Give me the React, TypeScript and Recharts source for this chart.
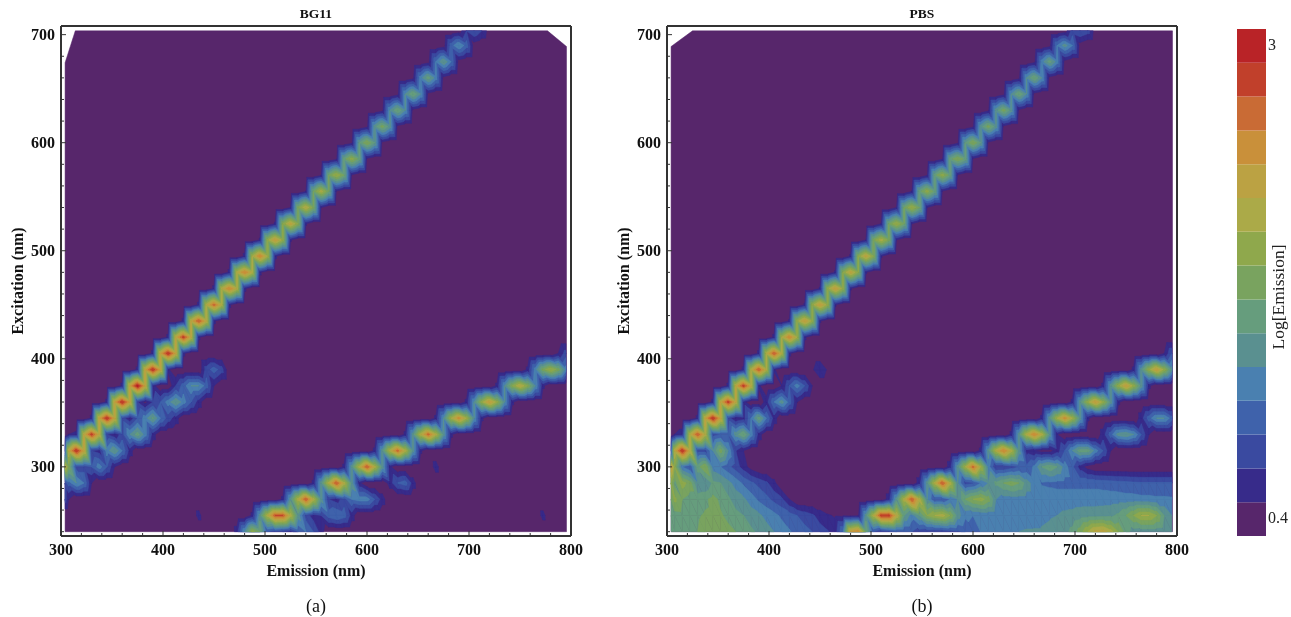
import { Bar, BarChart, Scatter, ScatterChart, XAxis, YAxis } from 'recharts';

// band colours, lowest (background) to highest
const levelColors = [
  '#57266B', '#372B8A', '#3A4AA0', '#3F62AB', '#4A80B0', '#5A9090', '#669D7D', '#79A35F',
  '#8FA84C', '#ABAA48', '#BBA243', '#C9903A', '#C96B35', '#C1402B', '#B92327',
];

const colorbarTicks = [0.55, 14.55];
const colorbarLabels = ['0.4', '3'];

const excitationRows = [
  240, 255, 270, 285, 300, 315, 330, 345, 360, 375, 390, 405, 420, 435, 450, 465, 480, 495, 510, 525, 540, 555, 570,
  585, 600, 615, 630, 645, 660, 675, 690, 705,
];
const EM_START = 300;
const EM_STEP = 7.5;
const EM_COUNT = 67;

const emissionTicks = [
  300, 320, 340, 360, 380, 400, 420, 440, 460, 480, 500, 520, 540, 560, 580, 600, 620, 640, 660, 680, 700, 720, 740,
  760, 780, 800,
];
const excitationTicks = [
  240, 260, 280, 300, 320, 340, 360, 380, 400, 420, 440, 460, 480, 500, 520, 540, 560, 580, 600, 620, 640, 660, 680,
  700,
];

// every span is [excitation, first emission, ...levels every 7.5 nm]
const bg11FirstOrder = [
  [270, 300, 2.5, 1],
  [285, 300, 2.5, 3.5, 5, 4, 1],
  [300, 300, 10, 7.5, 2.5, 2.5, 3, 4.5, 3, 1],
  [315, 300, 3, 10, 14, 10.5, 2, 1.5, 4.5, 6, 4, 1.5],
  [330, 307.5, 1, 1.2, 10, 13.5, 10, 2, 1.2, 2.5, 5, 6.5, 4.5, 1.5],
  [345, 330, 1.2, 10.5, 14, 10.5, 2.5, 1.2, 3, 4.5, 6.2, 4, 2.5, 1.5],
  [360, 345, 1.2, 10.5, 14, 10.5, 2, 0.6, 2, 3, 4.5, 6, 4.5, 3, 1.5],
  [375, 360, 1.2, 10.5, 14.5, 10.5, 1.5],
  [375, 412.5, 2, 3.5, 5, 5, 3.5, 1],
  [390, 375, 1.2, 10.5, 14, 10.5, 1.2],
  [390, 442.5, 2.5, 3.5, 2.5],
  [405, 390, 1.2, 10.5, 14, 10.5, 1.2],
  [420, 405, 1.2, 10, 13.5, 10, 1.2],
  [435, 420, 1.2, 10, 13, 10, 1.2],
  [450, 435, 1.2, 9.5, 12.5, 9.5, 1.2],
  [465, 450, 1.2, 9.5, 12, 9.5, 1.2],
  [480, 465, 1.2, 9.5, 12, 9.5, 1.2],
  [495, 480, 1.2, 9, 12, 9, 1.2],
  [510, 495, 1.1, 8.5, 11, 8.5, 1.1],
  [525, 510, 1.1, 8, 10.5, 8, 1.1],
  [540, 525, 1, 7.5, 10, 7.5, 1],
  [555, 540, 0.9, 7, 9.5, 7, 0.9],
  [570, 555, 0.8, 7, 9, 7, 0.8],
  [585, 570, 0.7, 6.5, 8.5, 6.5, 0.7],
  [600, 585, 0.6, 6, 8, 6, 0.6],
  [615, 600, 0.6, 5.5, 7.5, 5.5, 0.6],
  [630, 615, 0.6, 5, 7, 5, 0.6],
  [645, 630, 0.6, 5, 7, 5, 0.6],
  [660, 645, 0.6, 4.5, 6.5, 4.5, 0.6],
  [675, 660, 0.5, 4, 6, 4, 0.5],
  [690, 675, 0.4, 3.5, 5, 3.5, 0.4],
  [705, 690, 0.4, 2, 3, 2, 0.4],
];

const bg11SecondOrder = [
  [240, 472.5, 1.5, 5, 8.5, 7, 3, 2.5, 2, 1.5, 3, 4, 3, 1.5],
  [255, 487.5, 1.2, 5.5, 9.5, 13, 13, 9.5, 5.5, 2.5, 1.5, 2, 3.5, 4, 3.5, 1.5],
  [270, 517.5, 1.2, 5.5, 9.5, 13, 9.5, 5.5, 2, 1.5, 2.5, 4, 4.5, 4.5, 3, 1.5],
  [285, 547.5, 1.2, 5.5, 9.5, 13, 9.5, 5.5, 1.2],
  [285, 622.5, 1.5, 3, 3.5, 1.5],
  [300, 577.5, 1.2, 5.5, 9.5, 13, 9.5, 5.5, 1.2],
  [315, 607.5, 1.2, 5.5, 9.5, 12.5, 9.5, 5.5, 1.2],
  [330, 637.5, 1.2, 5.5, 9.5, 12.5, 9.5, 5.5, 1.2],
  [345, 667.5, 1.2, 5, 9, 11.5, 9, 5, 1.2],
  [360, 697.5, 1.2, 5, 8.5, 11, 8.5, 5, 1.2],
  [375, 727.5, 1.2, 5, 8, 10, 8, 5, 1.2],
  [390, 757.5, 1.2, 4.5, 7.5, 9, 7.5, 4.5, 1.2],
  [405, 787.5, 1, 2.5],
];

const bg11Specks = [
  [255, 435, 1.4],
  [255, 772.5, 1.4],
  [300, 667.5, 1.5],
];

const pbsBroad = [
  [240, 300, 6.5, 6.6, 6.7, 6.8, 7, 7.3, 7.4, 7.4, 7.2, 7, 6.5, 6.2, 5.8, 5.4, 5, 4.5, 4.1, 3.7, 3.3, 3, 2.5, 2.1, 1.5],
  [
    240, 472.5, 4, 11, 12, 7, 3, 2, 2.5, 3, 3, 3, 2.5, 2.3, 2.2, 2.2, 2.5, 2.8, 3.2, 3.7, 4, 4.2, 4.2, 4.3, 4.6, 5, 5.1,
    5.1, 5.1, 5.2, 5.4, 5.7, 6.3, 7.5, 9, 10.3, 10.5, 9.5, 8, 6.5, 5.5, 5.4, 5.4, 5.4, 5.3, 5.1,
  ],
  [255, 300, 6.5, 6.5, 6.6, 6.8, 6.9, 7.1, 7.2, 7.1, 6.8, 6.3, 6, 5.5, 5.2, 4.7, 4.3, 3.8, 3.4, 3, 2.6, 2.2, 1.5, 1.1, 0.9],
  [
    255, 472.5, 0.8, 0.7, 0.8, 5.5, 9.5, 13.5, 13.5, 10, 6, 4.5, 6, 8, 9, 9.5, 8, 5.5, 4.2, 4, 4.1, 4.2, 4.2, 4.3, 4.3,
    4.4, 4.5, 4.6, 4.8, 4.9, 5, 5.2, 5.3, 5.5, 5.6, 5.6, 5.7, 5.8, 6.2, 7, 8, 9, 9, 8, 6, 5,
  ],
  [270, 300, 7, 8.3, 7, 6.5, 6.5, 6.8, 7.3, 6.8, 6.2, 5.5, 5.2, 4.5, 3.8, 3.3, 2.7, 2.2, 1],
  [
    270, 517.5, 1.5, 5.5, 9.5, 13, 9.5, 5, 3, 3, 4, 5, 7, 8, 8.5, 7.5, 5, 4.5, 4.5, 4.5, 4.5, 4.5, 4.5, 4.5, 4.5, 4.5,
    4.5, 4.5, 4.5, 4.5, 4.5, 4.5, 4.5, 4.4, 4.4, 4.3, 4.3, 4.2, 4.2, 4.15,
  ],
  [285, 300, 8, 6.5, 8.5, 7.5, 5, 5, 6.2, 6, 5.3, 4.6, 3.8, 3.2, 2.7, 2.2, 1.3],
  [
    285, 547.5, 1.5, 5.5, 9.5, 13, 9.5, 5, 2.5, 2.8, 4, 5, 6.2, 7, 7.5, 7, 5.5, 4.5, 3.9, 3.8, 3.7, 3.7, 3.7, 3.7, 3.7,
    3.7, 3.6, 3.5, 3.4, 3.3, 3.2, 3.1, 3.1, 3.1, 3.1, 3.1,
  ],
  [300, 300, 11, 8, 4, 3, 6.5, 8, 4.5, 4, 3.3, 2.5, 1.5, 0.5],
  [300, 577.5, 1.5, 5.5, 9, 12.5, 9, 4.5, 2, 2, 2.5, 3, 3.2, 4.2, 6, 6.7, 6, 4.5, 3.2, 1.5, 0.5],
];

const pbsFirstOrder = [
  [315, 300, 3, 10, 14, 10, 2.5, 2.5, 5, 7.5, 5, 2, 1],
  [330, 307.5, 1, 1.5, 9.5, 13, 9.5, 2.5, 3, 3, 5.5, 7, 4.5, 1.5],
  [345, 330, 1.2, 10.5, 14, 10.5, 2.5, 1, 1.5, 4, 6.5, 4, 1.5],
  [360, 345, 1.2, 10, 13.5, 10, 1.5],
  [360, 397.5, 1.5, 4, 5.5, 3.5, 1],
  [375, 360, 1.2, 10, 13.5, 10, 1.2],
  [375, 412.5, 1, 3, 4.5, 3, 1],
  [390, 375, 1.2, 9.5, 13, 9.5, 1.2],
  [390, 442.5, 0.8, 2, 0.8],
  [405, 390, 1.2, 9.5, 13, 9.5, 1.2],
  [420, 405, 1.2, 9, 12, 9, 1.2],
  [435, 420, 1.1, 8.5, 11, 8.5, 1.1],
  [450, 435, 1.1, 8.5, 11, 8.5, 1.1],
  [465, 450, 1.1, 8.5, 11, 8.5, 1.1],
  [480, 465, 1.1, 8, 10.5, 8, 1.1],
  [495, 480, 1.1, 8, 10.5, 8, 1.1],
  [510, 495, 1, 7.5, 9.5, 7.5, 1],
  [525, 510, 1, 7, 9, 7, 1],
  [540, 525, 1, 7, 9, 7, 1],
  [555, 540, 0.9, 6.5, 8.5, 6.5, 0.9],
  [570, 555, 0.8, 6.5, 8.5, 6.5, 0.8],
  [585, 570, 0.8, 6.5, 8, 6.5, 0.8],
  [600, 585, 0.7, 6, 8, 6, 0.7],
  [615, 600, 0.7, 5.5, 7.5, 5.5, 0.7],
  [630, 615, 0.7, 5.5, 7.5, 5.5, 0.7],
  [645, 630, 0.6, 5, 7, 5, 0.6],
  [660, 645, 0.6, 5, 7, 5, 0.6],
  [675, 660, 0.6, 4.5, 6.5, 4.5, 0.6],
  [690, 675, 0.5, 4, 5.5, 4, 0.5],
  [705, 690, 0.4, 2.5, 3, 2.5, 0.4],
];

const pbsSecondOrder = [
  [315, 607.5, 1.2, 5.5, 9.5, 12, 9.5, 5.5, 1.5, 1, 0.5, 0.5, 1.5, 3, 5, 6.5, 6.5, 4.5, 3, 1],
  [330, 637.5, 1.2, 5.5, 9.5, 12, 9.5, 5.5, 1],
  [330, 727.5, 1.5, 3.5, 5.5, 5.8, 5, 3, 1],
  [345, 667.5, 1.2, 5.5, 9, 11.5, 9, 5.5, 1.2],
  [345, 765, 1.5, 3.5, 5, 5, 3.5],
  [360, 697.5, 1.2, 5.5, 8.5, 11, 8.5, 5.5, 1.2],
  [375, 727.5, 1.2, 5.5, 8.5, 11, 8.5, 5.5, 1.2],
  [390, 757.5, 1.2, 5.5, 8.5, 11, 8.5, 5.5],
  [405, 787.5, 1, 3],
];

// edges of the measured area, emission / excitation
const bg11OutlineEm = [304, 795.6, 795.6, 777, 314, 304];
const bg11OutlineEx = [240, 240, 689, 703.5, 703.5, 674];
const pbsOutlineEm = [304, 795.6, 795.6, 325, 304];
const pbsOutlineEx = [240, 240, 703.5, 703.5, 689];

const CHART_W = 640;
const CHART_H = 617;
const PLOT = { left: 61, right: 571, top: 26, bottom: 536 };
const X_DOMAIN = [300, 800];
const Y_DOMAIN = [236, 708];
const PX_X = (PLOT.right - PLOT.left) / (X_DOMAIN[1] - X_DOMAIN[0]);
const PX_Y = (PLOT.bottom - PLOT.top) / (Y_DOMAIN[1] - Y_DOMAIN[0]);
const FONT = '"Liberation Serif", serif';
const FRAME = '#333';

type Vtx = [number, number, number];
type Piece = { em: number; ex: number; level: number; poly: number[][] };

function clipTriangle(tri: Vtx[], level: number) {
  const out: number[][] = [];
  for (let i = 0; i < 3; i++) {
    const a = tri[i];
    const b = tri[(i + 1) % 3];
    if (a[2] >= level) out.push([a[0], a[1]]);
    if (a[2] >= level !== b[2] >= level) {
      const t = (level - a[2]) / (b[2] - a[2]);
      out.push([a[0] + (b[0] - a[0]) * t, a[1] + (b[1] - a[1]) * t]);
    }
  }
  return out;
}

// turns the read-off grid into filled contour pieces in data units
function buildPieces(spans: number[][]) {
  const grid = excitationRows.map(() => new Array(EM_COUNT).fill(0));
  spans.forEach(([ex, em, ...vals]) => {
    const r = excitationRows.indexOf(ex);
    const c0 = Math.round((em - EM_START) / EM_STEP);
    vals.forEach((v, i) => {
      if (c0 + i < EM_COUNT) grid[r][c0 + i] = Math.max(grid[r][c0 + i], v);
    });
  });
  const emAt = (c: number) => Math.min(795.6, Math.max(304, EM_START + c * EM_STEP));
  const exAt = (r: number) => Math.min(703.5, excitationRows[r]);
  const pieces: Piece[] = [];
  for (let level = 1; level < levelColors.length; level++) {
    for (let r = 0; r < excitationRows.length - 1; r++) {
      for (let c = 0; c < EM_COUNT - 1; c++) {
        const bl: Vtx = [emAt(c), exAt(r), grid[r][c]];
        const br: Vtx = [emAt(c + 1), exAt(r), grid[r][c + 1]];
        const tl: Vtx = [emAt(c), exAt(r + 1), grid[r + 1][c]];
        const tr: Vtx = [emAt(c + 1), exAt(r + 1), grid[r + 1][c + 1]];
        // split every cell the same way, across the ridge: this is what gives the saw-tooth edges
        const tris = [[bl, br, tl], [br, tr, tl]];
        tris.forEach((tri) => {
          const vals = tri.map((p) => p[2]);
          if (Math.max(...vals) < level || Math.min(...vals) >= level + 1) return;
          const poly = clipTriangle(tri as Vtx[], level);
          if (poly.length > 2) pieces.push({ em: poly[0][0], ex: poly[0][1], level, poly });
        });
      }
    }
  }
  return pieces;
}

function outlinePiece(ems: number[], exs: number[]): Piece[] {
  return [{ em: ems[0], ex: exs[0], level: 0, poly: ems.map((e, i) => [e, exs[i]]) }];
}

const PieceShape = (props: any) => {
  const { cx, cy, payload } = props;
  const pts = payload.poly
    .map((p: number[]) => `${cx + (p[0] - payload.em) * PX_X},${cy - (p[1] - payload.ex) * PX_Y}`)
    .join(' ');
  const color = levelColors[payload.level];
  return <polygon points={pts} fill={color} stroke={color} strokeWidth={0.5} />;
};

const BottomTick = (props: any) => {
  const { x, y, payload } = props;
  const major = payload.value % 100 === 0;
  return (
    <g>
      <line x1={x} x2={x} y1={y} y2={y - (major ? 5 : 3)} stroke={FRAME} />
      {major && (
        <text x={x} y={y + 19} textAnchor="middle" fontFamily={FONT} fontWeight="bold" fontSize={16} fill="#111">
          {payload.value}
        </text>
      )}
    </g>
  );
};

const TopTick = (props: any) => {
  const { x, y, payload } = props;
  return <line x1={x} x2={x} y1={y} y2={y + (payload.value % 100 === 0 ? 5 : 3)} stroke={FRAME} />;
};

const LeftTick = (props: any) => {
  const { x, y, payload } = props;
  const major = payload.value % 100 === 0;
  return (
    <g>
      <line x1={x} x2={x + (major ? 5 : 3)} y1={y} y2={y} stroke={FRAME} />
      {major && (
        <text x={x - 6} y={y + 5} textAnchor="end" fontFamily={FONT} fontWeight="bold" fontSize={16} fill="#111">
          {payload.value}
        </text>
      )}
    </g>
  );
};

const RightTick = (props: any) => {
  const { x, y, payload } = props;
  return <line x1={x} x2={x - (payload.value % 100 === 0 ? 5 : 3)} y1={y} y2={y} stroke={FRAME} />;
};

function Panel({ left, title, tag, outline, pieces }: any) {
  const axisLine = { stroke: FRAME, strokeWidth: 2 };
  const labelStyle = { fontFamily: FONT, fontWeight: 'bold', fontSize: 16, fill: '#111' };
  return (
    <div style={{ position: 'absolute', left, top: 0 }}>
      <ScatterChart
        width={CHART_W}
        height={CHART_H}
        margin={{ top: PLOT.top - 1, right: CHART_W - PLOT.right - 1, bottom: CHART_H - PLOT.bottom - 40, left: 0 }}
      >
        <XAxis
          type="number"
          dataKey="em"
          domain={X_DOMAIN}
          ticks={emissionTicks}
          interval={0}
          height={40}
          tickSize={0}
          tickMargin={0}
          tickLine={false}
          axisLine={axisLine}
          tick={BottomTick}
          label={{ value: 'Emission (nm)', position: 'insideBottom', offset: 0, style: labelStyle }}
        />
        <XAxis
          xAxisId="top"
          orientation="top"
          type="number"
          domain={X_DOMAIN}
          ticks={emissionTicks}
          interval={0}
          height={1}
          tickSize={0}
          tickMargin={0}
          tickLine={false}
          axisLine={axisLine}
          tick={TopTick}
        />
        <YAxis
          type="number"
          dataKey="ex"
          domain={Y_DOMAIN}
          ticks={excitationTicks}
          interval={0}
          width={PLOT.left}
          tickSize={0}
          tickMargin={0}
          tickLine={false}
          axisLine={axisLine}
          tick={LeftTick}
          label={{ value: 'Excitation (nm)', angle: -90, position: 'insideLeft', offset: 17, style: { ...labelStyle, textAnchor: 'middle' } }}
        />
        <YAxis
          yAxisId="right"
          orientation="right"
          type="number"
          domain={Y_DOMAIN}
          ticks={excitationTicks}
          interval={0}
          width={1}
          tickSize={0}
          tickMargin={0}
          tickLine={false}
          axisLine={axisLine}
          tick={RightTick}
        />
        <Scatter data={outline} shape={PieceShape} isAnimationActive={false} />
        <Scatter data={pieces} shape={PieceShape} isAnimationActive={false} />
        <text x={316} y={18} textAnchor="middle" fontFamily={FONT} fontWeight="bold" fontSize={13.5} fill="#111">
          {title}
        </text>
        <text x={316} y={612} textAnchor="middle" fontFamily={FONT} fontSize={18} fill="#111">
          {tag}
        </text>
      </ScatterChart>
    </div>
  );
}

const colorbarRow = [Object.fromEntries(levelColors.map((_, i) => [`b${i}`, 1]))];

function Colorbar() {
  return (
    <div style={{ position: 'absolute', left: 1190, top: 0 }}>
      <BarChart
        width={101}
        height={CHART_H}
        data={colorbarRow}
        barCategoryGap={0}
        margin={{ top: 29, right: 0, bottom: 81, left: 47 }}
      >
        <XAxis hide />
        <YAxis
          orientation="right"
          type="number"
          domain={[0, levelColors.length]}
          ticks={colorbarTicks}
          tickFormatter={(v: number) => colorbarLabels[colorbarTicks.indexOf(v)]}
          width={25}
          axisLine={false}
          tickLine={false}
          tickMargin={-4}
          tick={{ fontFamily: FONT, fontSize: 16, fill: '#222' }}
        />
        {levelColors.map((c, i) => (
          <Bar key={c} dataKey={`b${i}`} stackId="bar" fill={c} isAnimationActive={false} />
        ))}
        <text
          x={94}
          y={297}
          transform="rotate(-90 94 297)"
          textAnchor="middle"
          fontFamily={FONT}
          fontSize={17.5}
          fill="#222"
        >
          Log[Emission]
        </text>
      </BarChart>
    </div>
  );
}

const bg11Pieces = buildPieces([...bg11FirstOrder, ...bg11SecondOrder, ...bg11Specks]);
const pbsPieces = buildPieces([...pbsBroad, ...pbsFirstOrder, ...pbsSecondOrder]);

export default function App() {
  return (
    <div
      style={{
        position: 'absolute',
        left: 0,
        top: 0,
        width: 1291,
        height: 617,
        overflow: 'hidden',
        background: '#fff',
        filter: 'blur(0.5px)',
      }}
    >
      <Panel left={0} title="BG11" tag="(a)" outline={outlinePiece(bg11OutlineEm, bg11OutlineEx)} pieces={bg11Pieces} />
      <Panel left={606} title="PBS" tag="(b)" outline={outlinePiece(pbsOutlineEm, pbsOutlineEx)} pieces={pbsPieces} />
      <Colorbar />
    </div>
  );
}
